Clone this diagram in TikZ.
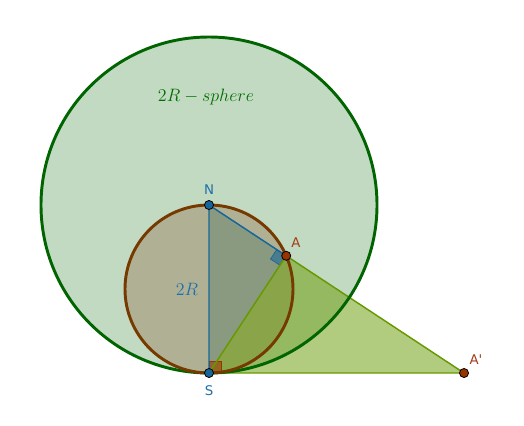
\documentclass[tikz,border=0pt]{standalone}
\usepackage{fontspec}
\newfontfamily\labfont{DejaVu Sans}[Ligatures=TeXOff]
\usetikzlibrary{calc}
\definecolor{bigg}{RGB}{0,100,0}
\definecolor{brn}{RGB}{153,51,0}
\definecolor{brnfill}{RGB}{125,58,12}
\definecolor{brnline}{RGB}{118,58,0}
\definecolor{blu}{RGB}{21,101,153}
\definecolor{blufill}{RGB}{24,84,72}
\definecolor{olv}{RGB}{102,153,0}
\definecolor{labblu}{RGB}{30,110,170}
\definecolor{labred}{RGB}{160,60,20}
\definecolor{mathgreen}{RGB}{0,110,0}
\tikzset{
  pt/.style={circle, draw=black, line width=0.6pt, inner sep=0pt, minimum size=6.8pt},
  bluept/.style={pt, fill=blu},
  redpt/.style={pt, fill=brn},
  lab/.style={font=\labfont\fontsize{10}{12}\selectfont, inner sep=0pt},
  mathlab/.style={font=\fontsize{12}{14}\selectfont, inner sep=0pt, scale=1.12},
}
\begin{document}
\begin{tikzpicture}[x=0.75pt,y=-0.75pt]
\useasboundingbox (0,0) rectangle (524,425);
\coordinate (N) at (209,205);
\coordinate (S) at (209,373);
\coordinate (O) at (209,289);
\coordinate (A) at (286.2,255.8);
\coordinate (Ap) at (464,373);
% fills
\fill[bigg, fill opacity=0.24] (N) circle[radius=126pt];
\fill[brnfill, fill opacity=0.25] (O) circle[radius=63pt];
\fill[olv, fill opacity=0.5] (S) -- (A) -- (Ap) -- cycle;
\fill[blufill, fill opacity=0.25] (N) -- (A) -- (S) -- cycle;
% right angle marks
\filldraw[blu, fill opacity=0.55, line width=0.5pt] (A) -- ($(A)!8.5pt!(N)$) -- ($($(A)!8.5pt!(N)$)+($(A)!8.5pt!(S)$)-(A)$) -- ($(A)!8.5pt!(S)$) -- cycle;
\filldraw[brn, fill opacity=0.55, line width=0.5pt] (S) -- ($(S)!9pt!(N)$) -- ($($(S)!9pt!(N)$)+($(S)!9pt!(Ap)$)-(S)$) -- ($(S)!9pt!(Ap)$) -- cycle;
% strokes
\draw[olv, line width=1.1pt] (S) -- (A) -- (Ap) -- cycle;
\draw[blu, line width=1.1pt] (S) -- (N) -- (A);
\draw[bigg, line width=2.2pt] (N) circle[radius=126pt];
\draw[brnline, line width=2.2pt] (O) circle[radius=63pt];
% points
\node[bluept] (nN) at (N) {};
\node[bluept] (nS) at (S) {};
\node[redpt] (nA) at (A) {};
\node[redpt] (nAp) at (Ap) {};
% labels
\node[lab, text=labblu] (lN) at (209,190) {N};
\node[lab, text=labblu] (lS) at (209,391) {S};
\node[lab, text=labred] (lA) at (296,243) {A};
\node[lab, text=labred] (lAp) at (476,360) {A'};
\node[mathlab, text=labblu] (l2R) at (187,289) {$2R$};
\node[mathlab, text=mathgreen] (lsph) at (206,97) {$2R-sphere$};
\end{tikzpicture}
\end{document}
